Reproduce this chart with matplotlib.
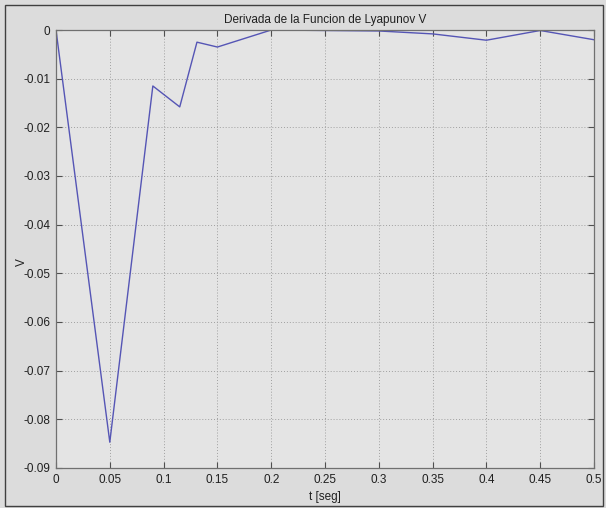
import matplotlib
matplotlib.use("Agg")
import matplotlib.pyplot as plt
from matplotlib.patches import Rectangle

# Time samples [s] and derivative of the Lyapunov function
t = [0.0, 0.05, 0.09, 0.115, 0.131, 0.15, 0.2, 0.3, 0.35, 0.4, 0.45, 0.5]
v_dot = [0.0, -0.0847, -0.0115, -0.0158, -0.0025, -0.0035, 0.0, -0.0002, -0.0008, -0.0021, -0.0001, -0.0020]

x_ticks = [0, 0.05, 0.1, 0.15, 0.2, 0.25, 0.3, 0.35, 0.4, 0.45, 0.5]
x_tick_labels = ["0", "0.05", "0.1", "0.15", "0.2", "0.25", "0.3", "0.35", "0.4", "0.45", "0.5"]
y_ticks = [0, -0.01, -0.02, -0.03, -0.04, -0.05, -0.06, -0.07, -0.08, -0.09]
y_tick_labels = ["0", "-0.01", "-0.02", "-0.03", "-0.04", "-0.05", "-0.06", "-0.07", "-0.08", "-0.09"]

W, H = 606, 508
fig = plt.figure(figsize=(W / 100, H / 100), dpi=100, facecolor="#dcdcdc")
plt.rcParams["font.family"] = ["Liberation Sans", "DejaVu Sans"]

# outer window frame
fig.patches.append(Rectangle((5 / W, 1 - 506 / H), 598 / W, 501 / H,
                             transform=fig.transFigure, fill=False,
                             edgecolor="#404040", linewidth=1.0))

ax = fig.add_axes([56 / W, 1 - 468 / H, 538 / W, 438 / H], facecolor="#e4e4e4")
ax.plot(t, v_dot, color="#5555b5", linewidth=1.0)

ax.set_xlim(0, 0.5)
ax.set_ylim(-0.09, 0)
ax.set_xticks(x_ticks)
ax.set_xticklabels(x_tick_labels)
ax.set_yticks(y_ticks)
ax.set_yticklabels(y_tick_labels)
ax.tick_params(direction="in", length=4, width=0.8, color="#505050",
               labelsize=8.5, labelcolor="#202020", top=True, right=True, pad=4)
ax.grid(True, linestyle=(0, (1, 2)), color="#a0a0a0", linewidth=0.7)
for s in ax.spines.values():
    s.set_color("#707070")
    s.set_linewidth(0.9)

ax.set_title("Derivada de la Funcion de Lyapunov V", fontsize=8.5, color="#202020", pad=5)
ax.set_xlabel("t [seg]", fontsize=8.5, color="#202020", labelpad=4)
ax.set_ylabel("V", fontsize=8.5, color="#202020")
ax.yaxis.set_label_coords(-0.052, 0.47)

fig.savefig("out.png", dpi=100, facecolor=fig.get_facecolor())
